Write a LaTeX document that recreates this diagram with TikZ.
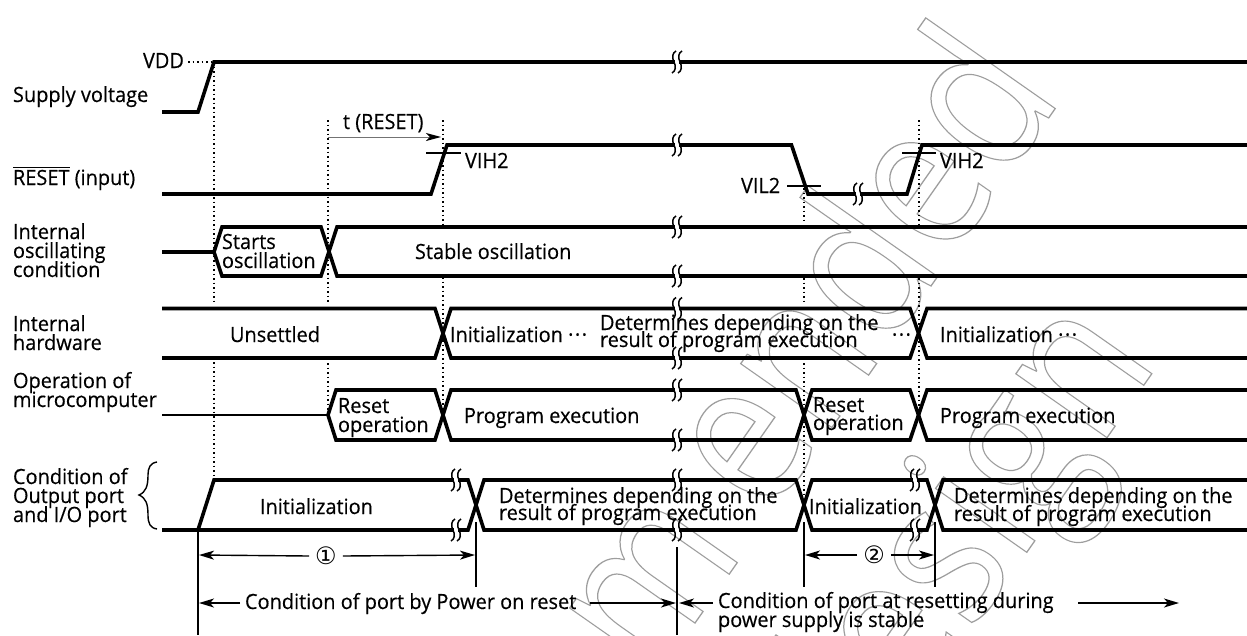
\documentclass[tikz,border=0pt]{standalone}
\usepackage{fontspec}
\setmainfont{Open Sans}[FakeStretch=0.95,FakeBold=0.4]
\newfontfamily\wmfont{Open Sans}
\newfontfamily\symfont{DejaVu Sans}
\usetikzlibrary{arrows.meta}
\tikzset{
  wave/.style={line width=3.6pt,line join=miter,line cap=butt,black},
  thinwave/.style={line width=2.8pt,black},
  dots/.style={line width=1.5pt,dash pattern=on 1.5pt off 3pt,black},
  vrule/.style={line width=1.4pt,black},
  lvltick/.style={line width=1.3pt,black},
  dimline/.style={line width=1.4pt,black,-{Stealth[length=15pt,width=9pt,inset=4pt]}},
  txt/.style={anchor=base west,inner sep=0pt,outer sep=0pt,font=\fontsize{21}{19}\selectfont,align=left},
  brk/.style={line width=1.5pt,black},
  wmark/.style={transform shape,inner sep=0pt,font=\wmfont\fontsize{208}{208}\selectfont},
  circnum/.style={inner sep=0pt,font=\symfont\fontsize{24}{24}\selectfont}
}
% two-stroke break mark placed on a signal line
\newcommand\brkmark[2]{%
  \fill[white] (#1-2.2,#2-3) rectangle (#1+2.2,#2+3);
  \foreach \d in {-3,3}{
    \draw[brk] (#1+\d+2,#2-11) .. controls (#1+\d-2,#2-9) and (#1+\d-2,#2-4) .. (#1+\d,#2)
      .. controls (#1+\d+2,#2+4) and (#1+\d+2,#2+9) .. (#1+\d-2,#2+11);}%
}
\newcommand\wm[1]{\special{pdf:code 1 Tr 1.3 w 0.62 G}#1\special{pdf:code 0 Tr}}
\newcommand\cdotsx{·\kern1.5pt·\kern1.5pt·}
\begin{document}
\begin{tikzpicture}[x=1pt,y=-1pt]
\useasboundingbox (0,0) rectangle (1247,635);
% watermark
\begin{scope}
\clip (0,0) rectangle (1247,635);
\node[wmark,anchor=base east,rotate=55,xscale=.84] (wmA) at (1064,96) {\wm{recomm\kern45pt ended}};
\node[wmark,anchor=base east,rotate=55,xscale=.84] (wmB) at (1160,362) {\wm{for new design}};
\end{scope}
% dotted guides
\draw[dots] (188,62) -- (212,62);
\draw[dots] (214,62) -- (214,303) (214,362) -- (214,475);
\draw[dots] (328,120) -- (328,303) (328,363) -- (328,415);
\draw[dots] (443,120) -- (443,226) (443,277) -- (443,415);
\draw[dots] (804,188) -- (804,223) (804,278) -- (804,303) (804,363) -- (804,497);
\draw[dots] (919,120) -- (919,225) (919,278) -- (919,410);
% signals
\draw[wave] (162,112) -- (198,112) -- (214,62) -- (1247,62);
\draw[wave] (162,194) -- (431,194) -- (447,145) -- (791.5,145) -- (808,194) -- (907,194) -- (922,145) -- (1247,145);
\draw[wave] (162,252) -- (214,252) -- (222,227) -- (321,227) -- (337,276) -- (1247,276);
\draw[wave] (214,252) -- (222,276) -- (321,276) -- (337,227) -- (1247,227);
\draw[wave] (162,308.5) -- (435,308.5) -- (451,358) -- (910,358) -- (927,308.5) -- (1247,308.5);
\draw[wave] (162,358) -- (435,358) -- (451,308.5) -- (910,308.5) -- (927,358) -- (1247,358);
\draw[thinwave] (162,415) -- (328,415);
\draw[wave] (328,415) -- (336,390) -- (435,390) -- (451,440) -- (796,440) -- (812,390) -- (910,390) -- (927,440) -- (1247,440);
\draw[wave] (328,415) -- (336,440) -- (435,440) -- (451,390) -- (796,390) -- (812,440) -- (910,440) -- (927,390) -- (1247,390);
\draw[wave] (162,530) -- (198,530) -- (214,480) -- (468,480) -- (484,530) -- (796,530) -- (812,480) -- (927,480) -- (943,530) -- (1247,530);
\draw[wave] (198,530) -- (468,530) -- (484,480) -- (796,480) -- (812,530) -- (927,530) -- (943,480) -- (1247,480);
% break marks
\foreach \y in {62,145,227,276,308.5,358,390,440,480,530}{\brkmark{677}{\y}}
\brkmark{858}{194}
\brkmark{456}{480}\brkmark{456}{530}
\brkmark{915}{480}\brkmark{915}{530}
% level ticks
\draw[lvltick] (426,153) -- (461,153);
\draw[lvltick] (902,153) -- (936,153);
\draw[lvltick] (787,186) -- (821,186);
% brace
\draw[line width=1.4pt] (157,462) .. controls (150,463) and (148,468) .. (148,475)
  .. controls (148,486) and (146,492) .. (139,495)
  .. controls (146,498) and (148,504) .. (148,515)
  .. controls (148,523) and (150,528) .. (157,529);
% vertical rules
\coordinate (r1t) at (198,532); \coordinate (r1b) at (198,635);
\coordinate (r2t) at (476,522); \coordinate (r2b) at (476,587);
\coordinate (r3t) at (677,547); \coordinate (r3b) at (677,635);
\coordinate (r4t) at (804,522); \coordinate (r4b) at (804,587);
\coordinate (r5t) at (935,522); \coordinate (r5b) at (935,587);
\draw[vrule] (r1t) -- (r1b); \draw[vrule] (r2t) -- (r2b); \draw[vrule] (r3t) -- (r3b);
\draw[vrule] (r4t) -- (r4b); \draw[vrule] (r5t) -- (r5b);
% labels, left column
\node[txt] (vdd) at (143,68) {VDD};
\node[txt] (sv) at (13,102) {Supply voltage};
\node[txt] (rst) at (13,185) {\leavevmode\vbox{\hrule height 1pt\kern 1.5pt\hbox{RESET}} (input)};
\node[txt] (ioc1) at (13,239) {Internal};
\node[txt] (ioc2) at (13,258) {oscillating};
\node[txt] (ioc3) at (13,277) {condition};
\node[txt] (ih1) at (13,331) {Internal};
\node[txt] (ih2) at (13,350) {hardware};
\node[txt] (om1) at (13,388) {Operation of};
\node[txt] (om2) at (13,407) {microcomputer};
\node[txt] (cp1) at (13,484) {Condition of};
\node[txt] (cp2) at (13,503) {Output port};
\node[txt] (cp3) at (13,522) {and I/O port};
% labels, timing
\node[txt] (treset) at (343,129) {t (RESET)};
\node[txt] (v1) at (465,168) {VIH2};
\node[txt] (v2) at (940,168) {VIH2};
\node[txt] (v3) at (741,193) {VIL2};
\node[txt] (so1) at (222,249) {Starts};
\node[txt] (so2) at (222,268) {oscillation};
\node[txt] (stable) at (415,259) {Stable oscillation};
\node[txt] (uns) at (230,342) {Unsettled};
\node[txt] (in1) at (450,342) {Initialization \cdotsx};
\node[txt] (det1a) at (600,330) {Determines depending on the};
\node[txt] (det1b) at (600,347) {result of program execution};
\node[txt] (dots1) at (892,342) {\cdotsx};
\node[txt] (in2) at (940,342) {Initialization \cdotsx};
\node[txt] (ro1a) at (338,413) {Reset};
\node[txt] (ro1b) at (338,432) {operation};
\node[txt] (pe1) at (464,423) {Program execution};
\node[txt] (ro2a) at (813,412) {Reset};
\node[txt] (ro2b) at (813,430) {operation};
\node[txt] (pe2) at (940,423) {Program execution};
\node[txt] (in3) at (260,514) {Initialization};
\node[txt] (det2a) at (499,503) {Determines depending on the};
\node[txt] (det2b) at (499,520) {result of program execution};
\node[txt] (in4) at (809,514) {Initialization};
\node[txt] (det3a) at (954,503) {Determines depending on the};
\node[txt] (det3b) at (954,521) {result of program execution};
\node[txt] (por) at (245,609) {Condition of port by Power on reset};
\node[txt] (rs1) at (718,608) {Condition of port at resetting during};
\node[txt] (rs2) at (718,627) {power supply is stable};
\node[circnum] (c1) at (326,556) {①};
\node[circnum] (c2) at (874,555) {②};
% dimension arrows
\coordinate (a1) at (590,603);
\coordinate (a2) at (1078,603); \coordinate (a3) at (1179,603);
\coordinate (d1l) at (199,555); \coordinate (d1r) at (475,555);
\coordinate (d2l) at (805,555); \coordinate (d2r) at (934,555);
\coordinate (p1) at (199,603); \coordinate (p2) at (676,603); \coordinate (p3) at (679,603);
\coordinate (p4) at (240,603); \coordinate (p5) at (713,603);
\coordinate (t1) at (328,137); \coordinate (t2) at (441,137);
\draw[line width=1pt,black!55,-{Stealth[length=15pt,width=8pt,inset=4pt,black]}] (t1) -- (t2);
\draw[dimline] ([xshift=-6pt]c1.west) -- (d1l);
\draw[dimline] ([xshift=6pt]c1.east) -- (d1r);
\draw[dimline] ([xshift=-6pt]c2.west) -- (d2l);
\draw[dimline] ([xshift=6pt]c2.east) -- (d2r);
\draw[dimline] (p4) -- (p1);
\draw[dimline] (a1) -- (p2);
\draw[dimline] (p5) -- (p3);
\draw[dimline] (a2) -- (a3);
\end{tikzpicture}
\end{document}
